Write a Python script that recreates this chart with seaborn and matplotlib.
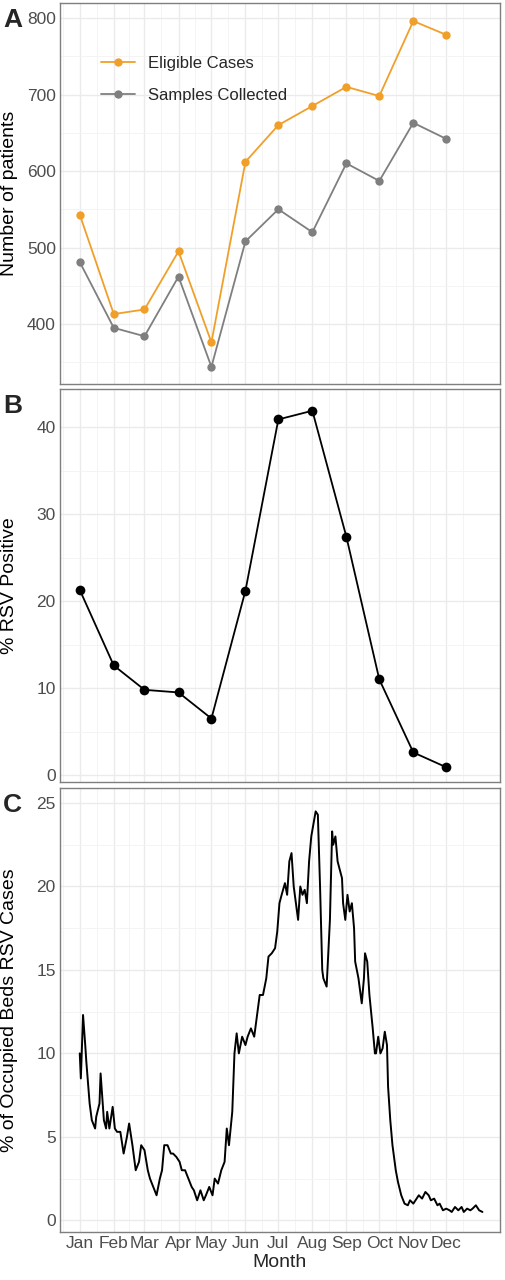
import matplotlib
matplotlib.use("Agg")
import matplotlib.pyplot as plt
import seaborn as sns
import pandas as pd
import numpy as np

months = ["Jan","Feb","Mar","Apr","May","Jun","Jul","Aug","Sep","Oct","Nov","Dec"]
month_start_day = [1,32,60,91,121,152,182,213,244,274,305,335]
eligible = [543,413,419,495,376,612,660,685,710,698,796,778]
samples = [481,395,384,462,344,508,550,520,610,587,663,642]
rsv_pos = [21.3,12.6,9.8,9.5,6.5,21.2,40.9,41.9,27.4,11.0,2.6,0.9]

bed_day = [1,2,4,6,7,10,12,15,16,19,20,23,25,26,28,31,33,35,38,41,44,46,49,52,55,57,60,63,65,68,71,74,76,78,81,84,86,89,92,94,97,100,103,105,108,111,114,116,119,122,124,127,130,133,135,137,140,142,144,146,149,152,154,157,160,163,165,168,171,173,176,179,181,183,185,188,190,192,194,196,198,200,202,204,206,208,210,212,216,218,220,222,223,226,229,231,232,234,236,238,240,241,243,245,247,249,251,252,255,258,260,261,263,265,268,270,271,273,275,277,279,281,282,284,286,289,291,294,297,300,302,305,308,310,313,316,319,321,324,327,329,332,335,338,340,343,346,349,351,354,357,359,362,365,368]
bed_pct = [10,8.5,12.3,10.5,9.5,7,6,5.5,6.2,7,8.8,6,5.5,6.5,5.5,6.8,5.5,5.3,5.3,4,5,5.8,4.5,3,3.5,4.5,4.2,3,2.5,2,1.5,2.5,3,4.5,4.5,4,4,3.8,3.5,3,3,2.5,2,1.8,1.2,1.8,1.2,1.5,2,1.5,2.5,2.2,3,3.5,5.5,4.5,6.5,10,11.2,10,11,10.5,11,11.5,11,12.5,13.5,13.5,14.5,15.8,16,16.3,17.3,19,19.5,20.2,19.5,21.5,22,20,19,18,20,19.5,19.8,19,21.5,23,24.5,24.3,20,15,14.5,14,18,23.3,22.5,23,21.5,21,20.5,19,18,19.5,18.5,19,17.5,15.5,14.5,13,14.5,16,15.5,13.5,11.5,10,10,11,10,10.3,11.3,10.5,8,6,4.5,3,2.3,1.5,1,0.9,1.2,1,1.3,1.5,1.3,1.7,1.5,1.2,1.3,0.9,1,0.6,0.7,0.6,0.5,0.8,0.6,0.8,0.5,0.7,0.6,0.7,0.9,0.6,0.5]

sns.set_theme(style="whitegrid")
plt.rcParams['font.family'] = ['Liberation Sans', 'DejaVu Sans']

W, H = 506, 1280
fig = plt.figure(figsize=(W/100, H/100), dpi=100)
def ax_at(l, t, r, b):
    return fig.add_axes([l/W, 1-b/H, (r-l)/W, (b-t)/H])

axA = ax_at(60, 3, 500, 384)
axB = ax_at(60, 389, 500, 782)
axC = ax_at(60, 788, 500, 1232)

dfA = pd.DataFrame({"day": month_start_day*2,
                    "value": eligible+samples,
                    "series": ["Eligible Cases"]*12 + ["Samples Collected"]*12})
sns.lineplot(data=dfA, x="day", y="value", hue="series", ax=axA, marker="o",
             markersize=6, markeredgewidth=0, linewidth=1.3,
             palette={"Eligible Cases": "#f0a02a", "Samples Collected": "#7f7f7f"})
dfB = pd.DataFrame({"day": month_start_day, "value": rsv_pos})
sns.lineplot(data=dfB, x="day", y="value", ax=axB, color="black", marker="o",
             markersize=7, markeredgewidth=0, linewidth=1.3)
dfC = pd.DataFrame({"day": bed_day, "value": bed_pct})
sns.lineplot(data=dfC, x="day", y="value", ax=axC, color="black", linewidth=1.4)

mids = [(a+b)/2 for a, b in zip([-30]+month_start_day, month_start_day+[366])]
settings = [(axA, (321.6, 819.6), [400,500,600,700,800], "Number of patients"),
            (axB, (-0.8, 44.4), [0,10,20,30,40], "% RSV Positive"),
            (axC, (-0.7, 25.9), [0,5,10,15,20,25], "% of Occupied Beds RSV Cases")]
for ax, yl, yt, lab in settings:
    ax.set_xticks(month_start_day)
    ax.set_xticks(mids, minor=True)
    ax.set_yticks(yt)
    step = yt[1]-yt[0]
    ax.set_yticks([v + step/2 for v in [yt[0]-step] + yt], minor=True)
    ax.set_xlim(-17, 384)
    ax.set_ylim(*yl)
    ax.grid(which="major", color="#ebebeb", linewidth=1.0)
    ax.grid(which="minor", color="#f3f3f3", linewidth=0.6)
    ax.set_axisbelow(True)
    for s in ax.spines.values():
        s.set_color("#7f7f7f"); s.set_linewidth(1.0); s.set_visible(True)
    ax.tick_params(axis="both", which="both", length=0, labelsize=12.5, labelcolor="#4d4d4d", pad=3)
    ax.set_ylabel(lab, fontsize=14, color="black")
    ax.yaxis.set_label_coords(-0.095, 0.5)
    if ax is not axC:
        ax.set_xticklabels([])
        ax.set_xlabel("")
    else:
        ax.set_xticklabels(months)
        ax.set_xlabel("Month", fontsize=14, labelpad=2)
fig.text(3/W, 1-27/H, "A", fontsize=19, fontweight="bold")
fig.text(3/W, 1-413/H, "B", fontsize=19, fontweight="bold")
fig.text(3/W, 1-812/H, "C", fontsize=19, fontweight="bold")

leg = axA.legend(loc="upper left", bbox_to_anchor=(0.06, 0.90), frameon=False,
                 fontsize=12, title=None, handlelength=2, labelspacing=1.0)

fig.savefig("out.png", dpi=100)
